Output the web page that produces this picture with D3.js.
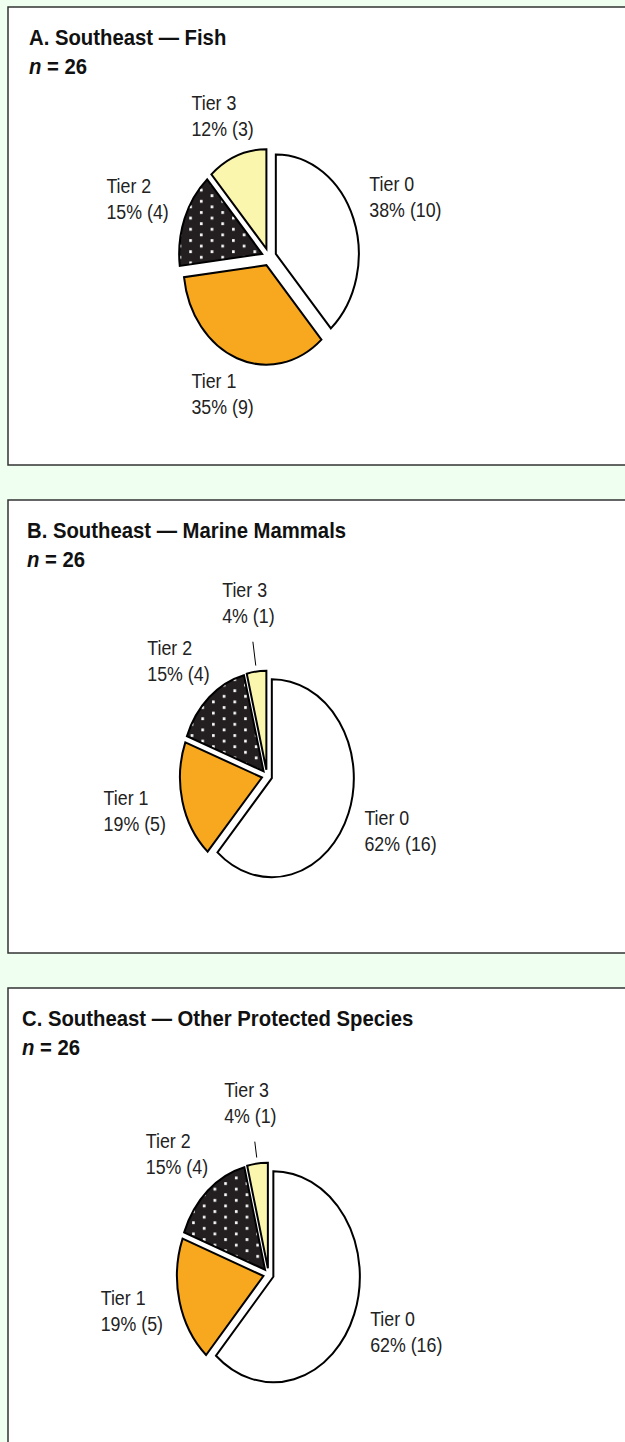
<!DOCTYPE html>
<html>
<head>
<script src="https://cdn.jsdelivr.net/npm/d3@7"></script>
<style>
  body { margin: 0; background: #effff0; }
  svg { display: block; font-family: "Liberation Sans", Arial, sans-serif; }
</style>
</head>
<body>
<svg id="chart" width="625" height="1442"></svg>
<script>
// data
var tiers = ["Tier 0", "Tier 1", "Tier 2", "Tier 3"];
var fishCounts = [10, 9, 4, 3];
var mammalCounts = [16, 5, 4, 1];
var otherCounts = [16, 5, 4, 1];
var titles = ["A. Southeast \u2014 Fish", "B. Southeast \u2014 Marine Mammals", "C. Southeast \u2014 Other Protected Species"];
var sampleSizes = [26, 26, 26];

// layout for each panel
var panels = [
  {counts: fishCounts,   top: 7,   h: 458, tx: 29, cx: 269,   cy: 257,    rx: 83,   ry: 99.5,  f: 0.088, lead: 45},
  {counts: mammalCounts, top: 500, h: 453, tx: 27, cx: 267,   cy: 776,    rx: 82,   ry: 99,    f: 0.063, lead: 45},
  {counts: otherCounts,  top: 988, h: 470, tx: 22, cx: 268.5, cy: 1274.5, rx: 86.5, ry: 105.5, f: 0.06,  lead: 37}
];

var colors = ["#ffffff", "#f8a81f", null, "#faf6ae"];
var sy = 1.1;      // the picture is a little stretched vertically
var gap = 17;      // label distance from the pie edge
var boxH = 44;     // two label lines, cap top to descender

var svg = d3.select("#chart");
var defs = svg.append("defs");
var pie = d3.pie().sort(null).value(function(d){ return d; });

panels.forEach(function(p, pi){
  var total = d3.sum(p.counts);

  // dotted fill, defined in screen units
  var pat = defs.append("pattern").attr("id", "dots" + pi)
    .attr("patternUnits", "userSpaceOnUse")
    .attr("width", 21.4).attr("height", 11.2)
    .attr("patternTransform", "scale(" + (p.ry / p.rx) + ",1)");
  pat.append("rect").attr("width", 21.4).attr("height", 11.2).attr("fill", "#231f20");
  pat.append("rect").attr("x", 2).attr("y", 2).attr("width", 2.6).attr("height", 2.8).attr("fill", "#fff");
  pat.append("rect").attr("x", 12.7).attr("y", 7.6).attr("width", 2.6).attr("height", 2.8).attr("fill", "#fff");

  svg.append("rect")
    .attr("x", 8).attr("y", p.top).attr("width", 640).attr("height", p.h)
    .attr("fill", "#fff").attr("stroke", "#333").attr("stroke-width", 1.5);

  svg.append("text")
    .attr("transform", "translate(" + p.tx + "," + (p.top + 38) + ") scale(1," + sy + ")")
    .attr("font-size", 20.3).attr("font-weight", "bold").attr("fill", "#111")
    .text(titles[pi]);
  var nline = svg.append("text")
    .attr("transform", "translate(" + p.tx + "," + (p.top + 67) + ") scale(1," + sy + ")")
    .attr("font-size", 20.3).attr("font-weight", "bold").attr("fill", "#111");
  nline.append("tspan").attr("font-style", "italic").text("n");
  nline.append("tspan").text(" = " + sampleSizes[pi]);

  var arc = d3.arc().innerRadius(0).outerRadius(p.ry);
  var g = svg.append("g")
    .attr("transform", "translate(" + p.cx + "," + p.cy + ") scale(" + (p.rx / p.ry) + ",1)");

  var slices = pie(p.counts);
  g.selectAll("path").data(slices).enter().append("path")
    .attr("d", arc)
    .attr("transform", function(d){
      var m = (d.startAngle + d.endAngle) / 2;
      return "translate(" + (p.f * p.ry * Math.sin(m)) + "," + (-p.f * p.ry * Math.cos(m)) + ")";
    })
    .attr("fill", function(d, i){ return colors[i] || "url(#dots" + pi + ")"; })
    .attr("stroke", "#000").attr("stroke-width", 2)
    .attr("stroke-linejoin", "miter")
    .attr("vector-effect", "non-scaling-stroke");

  // labels: box centre sits on the ray through the slice middle,
  // pushed out so the box clears the edge by a fixed gap
  slices.forEach(function(d, i){
    var m = (d.startAngle + d.endAngle) / 2;
    var s = Math.sin(m), c = Math.cos(m);
    var ex = p.cx + p.rx * (1 + p.f) * s;
    var ey = p.cy - p.ry * (1 + p.f) * c;
    var small = d.value / total < 0.05;

    var t = svg.append("text").attr("font-size", 17.8).attr("fill", "#222");
    var l1 = t.append("tspan").attr("x", 0).attr("y", 0).text(tiers[i]);
    var l2 = t.append("tspan").attr("x", 0).attr("y", 26 / sy)
      .text(Math.round(d.value / total * 100) + "% (" + d.value + ")");
    var w = Math.max(l1.node().getComputedTextLength(), l2.node().getComputedTextLength());
    var ray = Math.min(Math.abs(s) > 1e-6 ? (w / 2) / Math.abs(s) : 1e9,
                       Math.abs(c) > 1e-6 ? (boxH / 2) / Math.abs(c) : 1e9);
    var L = ray + (small ? p.lead : gap);
    var mx = ex + L * s, my = ey - L * c;
    t.attr("transform", "translate(" + (mx - w / 2) + "," + (my - 8) + ") scale(1," + sy + ")");

    if (small) {
      svg.append("line")
        .attr("x1", ex + 6 * s).attr("y1", ey - 6 * c)
        .attr("x2", ex + (p.lead - 15) * s).attr("y2", ey - (p.lead - 15) * c)
        .attr("stroke", "#000").attr("stroke-width", 1);
    }
  });
});
</script>
</body>
</html>
